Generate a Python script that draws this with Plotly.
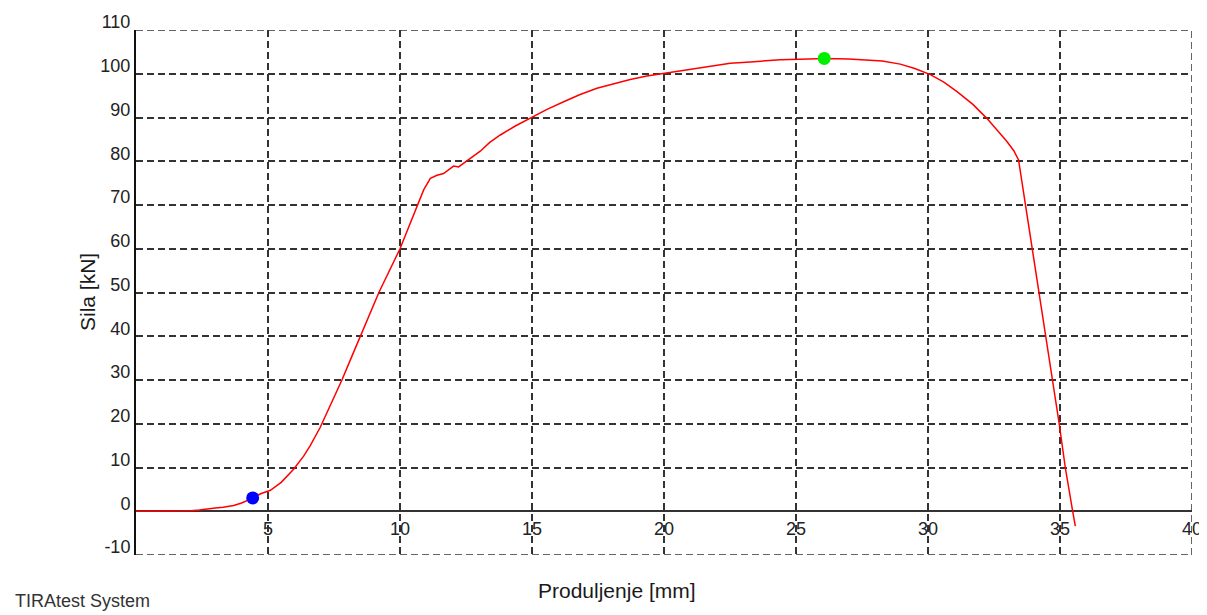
import plotly.graph_objects as go

# Elongation [mm] and force [kN]
elongation_mm = [0.0, 1.0, 2.06, 2.4, 2.7, 3.0, 3.3, 3.7, 4.0, 4.42, 4.72, 5.09, 5.5,
                 5.97, 6.35, 6.6, 6.98, 7.42, 7.80, 8.12, 8.50, 9.2, 10.0,
                 10.67, 10.9, 11.15, 11.4, 11.65, 12.03, 12.22, 12.41, 13.04, 13.4,
                 13.80, 14.35, 14.93, 15.55, 16.20, 16.8, 17.46, 18.1, 18.72, 19.35,
                 19.98, 20.6, 21.25, 21.9, 22.51, 23.27, 24.40, 25.5, 26.07, 27.0,
                 27.69, 28.27, 28.95, 29.5, 30.09, 30.6, 31.10, 31.7, 32.23, 32.6,
                 32.99, 33.25, 33.43, 34.97, 35.2, 35.48, 35.58]
force_kn = [0.0, 0.0, 0.1, 0.3, 0.6, 0.75, 0.9, 1.3, 1.9, 3.0, 4.0, 4.8, 6.6,
            9.6, 12.6, 15.0, 19.2, 24.8, 30.0, 34.6, 40.0, 50.0, 60.0,
            70.0, 73.5, 76.1, 76.8, 77.2, 78.9, 78.7, 79.5, 82.3, 84.3,
            86.0, 88.0, 89.8, 91.8, 93.6, 95.2, 96.7, 97.8, 98.7, 99.5,
            100.1, 100.7, 101.2, 101.8, 102.4, 102.7, 103.2, 103.4, 103.5, 103.4,
            103.2, 102.9, 102.2, 101.2, 99.8, 98.1, 95.9, 93.0, 89.8, 87.3,
            84.5, 82.4, 80.3, 20.0, 10.0, 0.0, -3.4]

# Marked points
start_point = (4.42, 3.05)
max_point = (26.07, 103.5)

x_ticks = [5, 10, 15, 20, 25, 30, 35, 40]
y_ticks = [-10, 0, 10, 20, 30, 40, 50, 60, 70, 80, 90, 100, 110]

x_title = "Produljenje [mm]"
y_title = "Sila [kN]"
footer = "TIRAtest System"

FONT = "Liberation Sans"
GRID = "#333333"
DASH = "7px,4px"

# page body has an 8px margin, so the figure is drawn offset by 8px
OFF = 8
W, H = 1207 - OFF, 615 - OFF
L, R, T, B = 136 - OFF, 15, 30 - OFF, 60
PW, PH = W - L - R, H - T - B


def px_x(v):
    return (v - OFF - L) / PW


def px_y(v):
    return (H - B - (v - OFF)) / PH


fig = go.Figure()
fig.add_trace(go.Scatter(x=elongation_mm, y=force_kn, mode="lines",
                         line=dict(color="#ff0000", width=1.5), showlegend=False,
                         hoverinfo="skip"))
fig.add_trace(go.Scatter(x=[start_point[0]], y=[start_point[1]], mode="markers",
                         marker=dict(color="#0000ff", size=13, symbol="circle"),
                         showlegend=False))
fig.add_trace(go.Scatter(x=[max_point[0]], y=[max_point[1]], mode="markers",
                         marker=dict(color="#00ee00", size=13, symbol="circle"),
                         showlegend=False))

# dashed borders at top/right/bottom
fig.add_shape(type="line", x0=40, x1=40, y0=-10, y1=110, xref="x", yref="y",
              line=dict(color=GRID, width=1.5, dash=DASH), layer="below")
for yv in [110, -10]:
    fig.add_shape(type="line", x0=0, x1=40, y0=yv, y1=yv, xref="x", yref="y",
                  line=dict(color=GRID, width=1.5, dash=DASH), layer="below")

fig.update_layout(
    width=W, height=H,
    margin=dict(l=L, r=R, t=T, b=B, autoexpand=False),
    paper_bgcolor="white", plot_bgcolor="white",
    font=dict(family=FONT, size=18, color="#222222"),
    xaxis=dict(range=[0, 40], tickvals=x_ticks, ticktext=[str(v) for v in x_ticks],
               showgrid=True, gridcolor=GRID, gridwidth=1.5, griddash=DASH,
               zeroline=False, showline=True, linecolor=GRID, linewidth=1.5,
               anchor="free", position=1/12, ticks="", ticklabelstandoff=1,
               automargin=False, layer="below traces",
               tickfont=dict(family=FONT, size=18, color="#222222")),
    yaxis=dict(range=[-10, 110], tickvals=y_ticks, ticktext=[str(v) for v in y_ticks],
               showgrid=True, gridcolor=GRID, gridwidth=1.5, griddash=DASH,
               zeroline=False, showline=True, linecolor="#111111", linewidth=2,
               ticks="", ticklabelstandoff=0, ticklabelshift=-8,
               automargin=False, layer="below traces",
               tickfont=dict(family=FONT, size=18, color="#222222")),
    annotations=[
        dict(text=x_title, x=px_x(617), y=px_y(590), xref="paper", yref="paper",
             xanchor="center", yanchor="middle", showarrow=False,
             font=dict(family=FONT, size=21, color="#1a1a1a")),
        dict(text=y_title, x=px_x(87), y=px_y(292), xref="paper", yref="paper",
             xanchor="center", yanchor="middle", textangle=-90, showarrow=False,
             font=dict(family=FONT, size=21, color="#1a1a1a")),
        dict(text=footer, x=px_x(13), y=px_y(601), xref="paper", yref="paper",
             xanchor="left", yanchor="middle", showarrow=False,
             font=dict(family=FONT, size=18, color="#333333")),
    ],
)

fig.write_html("out.html")
